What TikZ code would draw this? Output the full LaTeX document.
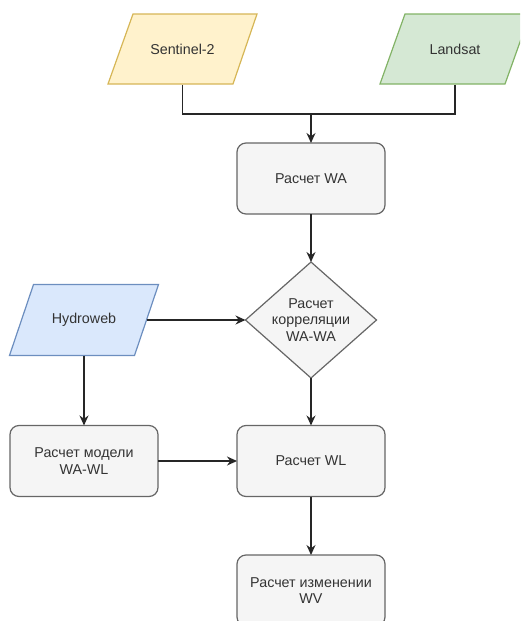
\documentclass[tikz,border=0pt]{standalone}
\usepackage{fontspec}
\setmainfont{Liberation Sans}
\usetikzlibrary{shapes.geometric,arrows.meta}
\definecolor{yfill}{HTML}{FFF2CC}\definecolor{ydraw}{HTML}{D6B656}
\definecolor{gfill}{HTML}{D5E8D4}\definecolor{gdraw}{HTML}{82B366}
\definecolor{bfill}{HTML}{DAE8FC}\definecolor{bdraw}{HTML}{6C8EBF}
\definecolor{pfill}{HTML}{F5F5F5}\definecolor{pdraw}{HTML}{666666}
\definecolor{txt}{HTML}{333333}
\tikzset{
  lbl/.style={font=\fontsize{14.3}{16.5}\selectfont, text=txt, align=center},
  anchorbox/.style={lbl, minimum width=125pt, minimum height=71pt, inner sep=0pt, outer sep=0pt},
  procbox/.style={lbl, draw=pdraw, fill=pfill, line width=1.2pt, rounded corners=9pt,
     minimum width=148pt, minimum height=71pt, inner sep=0pt, outer sep=0pt},
  conn/.style={line width=1.4pt, draw=black!85},
  arr/.style={conn, -{Stealth[length=10pt,width=9pt]}},
}
\begin{document}
\begin{tikzpicture}[x=1pt,y=-1pt]
\useasboundingbox (0,0) rectangle (520,621);
\clip (0,0) rectangle (520,621);
% parallelograms
\draw[fill=yfill, draw=ydraw, line width=1.2pt] (108,84) -- (233,84) -- (257,14) -- (133,14) -- cycle;
\node[anchorbox] (s2) at (182.5,49) {Sentinel-2};
\draw[fill=gfill, draw=gdraw, line width=1.2pt] (380,84) -- (505,84) -- (530,14) -- (405,14) -- cycle;
\node[anchorbox] (ls) at (455,49) {Landsat};
\draw[fill=bfill, draw=bdraw, line width=1.2pt] (9.5,355.5) -- (134.5,355.5) -- (158.5,284.5) -- (33.5,284.5) -- cycle;
\node[anchorbox] (hw) at (84,320) {Hydroweb};
% process boxes
\node[procbox] (wa) at (311,178.5) {Расчет WA};
\node[diamond, draw=pdraw, fill=pfill, line width=1.2pt, minimum width=131pt, minimum height=116pt,
      inner sep=0pt, outer sep=0pt] (corr) at (311,320) {};
\node[lbl] (corrtxt) at (corr.center) {Расчет\\корреляции\\WA-WA};
\node[procbox] (model) at (84,461) {Расчет модели\\WA-WL};
\node[procbox] (wl) at (311,461) {Расчет WL};
\node[procbox] (wv) at (311,590.5) {Расчет изменении\\WV};
% connectors
\coordinate (join) at (311,114);
\draw[conn] (s2.south) |- (join);
\draw[conn] (ls.south) |- (join);
\draw[arr] (join) -- (wa.north);
\draw[arr] (wa.south) -- (corr.north);
\draw[arr] (hw.east) -- (corr.west);
\draw[arr] (hw.south) -- (model.north);
\draw[arr] (corr.south) -- (wl.north);
\draw[arr] (model.east) -- (wl.west);
\draw[arr] (wl.south) -- (wv.north);
\end{tikzpicture}
\end{document}
